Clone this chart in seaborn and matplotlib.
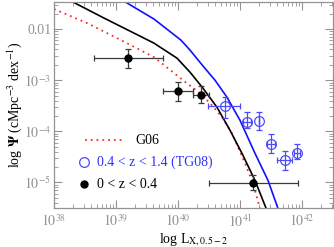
import numpy as np
import pandas as pd
import matplotlib
matplotlib.use("Agg")
import matplotlib.pyplot as plt
import seaborn as sns

# ---------------- data (log10 values) ----------------
black_lx = [38.242, 38.806, 39.613, 39.984, 40.194, 40.403, 40.629, 40.839, 41.032, 41.242, 41.435]
black_ly = [-1.431, -1.784, -2.275, -2.569, -2.843, -3.157, -3.529, -3.980, -4.431, -4.961, -5.549]

g06_lx = [38.000, 38.532, 39.081, 39.613, 40.081, 40.355, 40.548, 40.710, 40.871, 41.081, 41.210, 41.323]
g06_ly = [-1.608, -1.882, -2.216, -2.549, -3.000, -3.255, -3.490, -3.725, -4.039, -4.627, -5.020, -5.510]

blue_lx = [39.097, 39.613, 40.048, 40.194, 40.419, 40.597, 40.790, 41.000, 41.242, 41.452, 41.613]
blue_ly = [-1.431, -1.804, -2.216, -2.412, -2.745, -3.000, -3.333, -3.784, -4.431, -4.961, -5.510]

# 0 < z < 0.4 (filled)
lowz_lx = [39.19, 40.00, 40.37, 41.21]
lowz_ly = [-2.57, -3.22, -3.29, -5.02]
lowz_xlo = [38.65, 39.76, 40.24, 40.50]
lowz_xhi = [39.76, 40.24, 40.50, 41.94]
lowz_ylo = [-2.76, -3.41, -3.45, -5.15]
lowz_yhi = [-2.39, -3.04, -3.12, -4.85]

# 0.4 < z < 1.4 (TG08, open)
tg_lx = [40.76, 41.11, 41.31, 41.50, 41.73, 41.92]
tg_ly = [-3.51, -3.82, -3.80, -4.25, -4.57, -4.43]
tg_xlo = [40.48, 41.05, 41.31, 41.44, 41.60, 41.87]
tg_xhi = [41.00, 41.17, 41.31, 41.56, 41.84, 41.97]
tg_ylo = [-3.73, -3.94, -3.98, -4.43, -4.75, -4.55]
tg_yhi = [-3.33, -3.63, -3.63, -4.06, -4.39, -4.25]

xticks_exp = [38, 39, 40, 41, 42]
yticks_exp = [-5, -4, -3, -2]
ytick_labels = [r"$10^{-5}$", r"$10^{-4}$", r"$10^{-3}$", "0.01"]

legend_labels = ["G06", "0.4 < z < 1.4 (TG08)", "0 < z < 0.4"]

# ---------------- plotting ----------------
sns.set_theme(style="ticks")
plt.rcParams["font.family"] = ["Liberation Serif", "DejaVu Serif"]
plt.rcParams["mathtext.fontset"] = "stix"

W, H = 334, 247
fig = plt.figure(figsize=(W / 100, H / 100), dpi=100)
ax = fig.add_axes([54 / W, 1 - 208 / H, (333 - 54) / W, (208 - 2) / H])

def p10(a):
    return 10.0 ** np.asarray(a, dtype=float)

df_b = pd.DataFrame({"L": p10(black_lx), "phi": p10(black_ly)})
df_r = pd.DataFrame({"L": p10(g06_lx), "phi": p10(g06_ly)})
df_u = pd.DataFrame({"L": p10(blue_lx), "phi": p10(blue_ly)})

sns.lineplot(data=df_r, x="L", y="phi", ax=ax, color="#ff2a2a", lw=1.3,
             linestyle=(0, (1, 2.2)), sort=False)
sns.lineplot(data=df_b, x="L", y="phi", ax=ax, color="black", lw=1.2, sort=False)
sns.lineplot(data=df_u, x="L", y="phi", ax=ax, color="#1010ff", lw=1.2, sort=False)

# low-z points
x = p10(lowz_lx); y = p10(lowz_ly)
ax.errorbar(x, y, xerr=[x - p10(lowz_xlo), p10(lowz_xhi) - x],
            yerr=[y - p10(lowz_ylo), p10(lowz_yhi) - y],
            fmt="o", color="black", ecolor="#3a3a3a", elinewidth=0.9,
            capsize=2.5, capthick=0.9, markersize=5, zorder=5)

# TG08 points
x = p10(tg_lx); y = p10(tg_ly)
ax.errorbar(x, y, xerr=[x - p10(tg_xlo), p10(tg_xhi) - x],
            yerr=[y - p10(tg_ylo), p10(tg_yhi) - y],
            fmt="o", mfc="none", mec="#4a4aff", ecolor="#4a4aff", elinewidth=0.9,
            capsize=2.5, capthick=0.9, markersize=7, mew=0.9, zorder=5)

ax.set_xscale("log")
ax.set_yscale("log")
ax.set_xlim(1e38, 10.0 ** 42.5)
ax.set_ylim(10.0 ** -5.5, 10.0 ** -1.47)

ax.set_xticks(p10(xticks_exp))
ax.set_xticklabels([r"$10^{%d}$" % e for e in xticks_exp])
ax.set_yticks(p10(yticks_exp))
ax.set_yticklabels(ytick_labels)
ax.xaxis.set_minor_locator(matplotlib.ticker.LogLocator(base=10, subs=np.arange(2, 10), numticks=20))
ax.yaxis.set_minor_locator(matplotlib.ticker.LogLocator(base=10, subs=np.arange(2, 10), numticks=20))
ax.xaxis.set_minor_formatter(matplotlib.ticker.NullFormatter())
ax.yaxis.set_minor_formatter(matplotlib.ticker.NullFormatter())

gray = "#939393"
ax.tick_params(which="both", direction="in", top=True, right=True, color=gray,
               labelcolor=gray, labelsize=10)
ax.tick_params(which="major", length=6, width=0.8)
ax.tick_params(which="minor", length=3, width=0.6)
ax.tick_params(axis="x", pad=4)
ax.tick_params(axis="y", pad=2)
for s in ax.spines.values():
    s.set_color(gray)
    s.set_linewidth(0.9)

ax.set_xlabel(r"log L$_{\mathrm{X,0.5-2}}$", fontsize=10, color="black", labelpad=1)
ax.set_ylabel(r"log $\mathbf{\Psi}$ (cMpc$^{-3}$ dex$^{-1}$)", fontsize=10,
              color="black", labelpad=0)

# manual legend (axes coords)
tr = ax.transAxes
def axc(px, py):
    return ((px - 54) / (333 - 54), (208 - py) / (208 - 2))

(x0, y0), (x1, _) = axc(85, 140), axc(122, 140)
ax.plot([x0, x1], [y0, y0], transform=tr, color="#ff2a2a", lw=1.3, linestyle=(0, (1, 2.2)))
tx, ty = axc(135, 140)
ax.text(tx, ty, legend_labels[0], transform=tr, fontsize=10, color="black", va="center")

mx, my = axc(84, 162)
ax.plot([mx], [my], transform=tr, marker="o", mfc="none", mec="#4a4aff", ms=7, mew=0.9)
tx, ty = axc(97, 162)
ax.text(tx, ty, legend_labels[1], transform=tr, fontsize=10, color="#3030ff", va="center")

mx, my = axc(84, 184)
ax.plot([mx], [my], transform=tr, marker="o", color="black", ms=5)
tx, ty = axc(97, 184)
ax.text(tx, ty, legend_labels[2], transform=tr, fontsize=10, color="black", va="center")

fig.savefig("out.png", dpi=100)
